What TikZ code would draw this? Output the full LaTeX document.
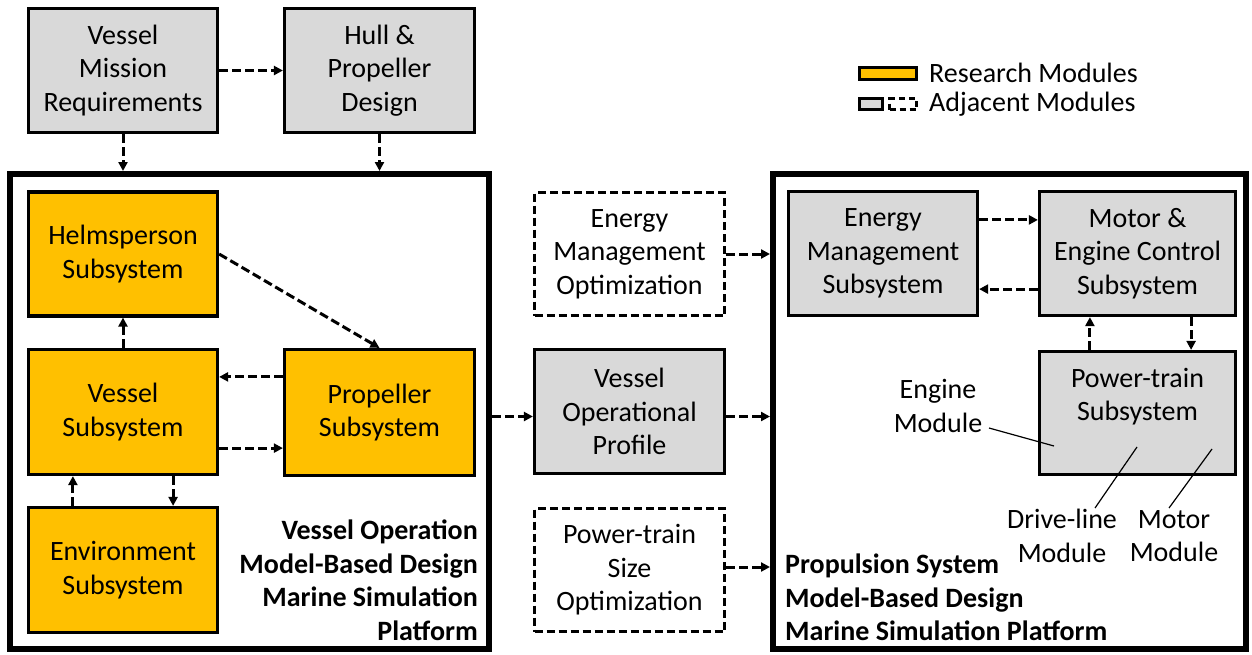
\documentclass[tikz,border=0pt]{standalone}
\usepackage{fontspec}
\setmainfont{Carlito}
\usetikzlibrary{arrows.meta}
\definecolor{resyellow}{HTML}{FFC000}
\definecolor{adjgray}{HTML}{D9D9D9}
\begin{document}
\begin{tikzpicture}[x=1pt,y=-1pt,
  txt/.style={font=\fontsize{28}{33.5}\selectfont, align=center, inner sep=0pt},
  box/.style={draw, line width=3.2pt, txt, minimum width=189pt, minimum height=124pt},
  resbox/.style={box, fill=resyellow},
  adjbox/.style={box, fill=adjgray},
  optbox/.style={box, fill=white, dash pattern=on 8pt off 4pt},
  platform/.style={draw, line width=6pt, inner sep=0pt, minimum height=475pt},
  flow/.style={line width=3pt, dash pattern=on 9pt off 4pt, -{Triangle[length=9pt,width=9pt]}},
  leader/.style={line width=1.2pt},
  platformtitle/.style={font=\bfseries\fontsize{28}{33.5}\selectfont, inner sep=0pt}
]
\useasboundingbox (0,0) rectangle (1252,654);

% platform frames
\node[platform, minimum width=479pt] (lframe) at (249.5,411.5) {};
\node[platform, minimum width=473pt] (rframe) at (1009.5,411.5) {};

% inputs above the vessel platform
\node[adjbox] (vmr)  at (123,70.5)   {Vessel\\Mission\\Requirements};
\node[adjbox, minimum width=190pt] (hull) at (379.5,70.5) {Hull \&\\Propeller\\Design};

% vessel operation platform
\node[resbox] (helm) at (123,254)   {Helmsperson\\Subsystem};
\node[resbox, minimum height=125pt] (ves)  at (123,412) {Vessel\\Subsystem};
\node[resbox, minimum width=190pt, minimum height=126pt] (prop) at (379.5,412.5) {Propeller\\Subsystem};
\node[resbox, minimum height=125pt] (env)  at (123,570) {Environment\\Subsystem};
\node[platformtitle, align=right, anchor=east] (ltitle) at (478,580)
  {Vessel Operation\\Model-Based Design\\Marine Simulation\\Platform};

% middle column
\node[optbox, minimum width=190pt, minimum height=123pt] (emo) at (629.5,254) {Energy\\Management\\Optimization};
\node[adjbox, minimum width=190pt, minimum height=124pt] (vop) at (629.5,411.5) {Vessel\\Operational\\Profile};
\node[optbox, minimum width=190pt, minimum height=123pt] (pso) at (629.5,570) {Power-train\\Size\\Optimization};

% propulsion system platform
\node[adjbox] (ems) at (883,253.5) {Energy\\Management\\Subsystem};
\node[adjbox, minimum width=196pt] (mec) at (1137.5,253.5) {Motor \&\\Engine Control\\Subsystem};
\node[adjbox, minimum width=196pt, minimum height=123pt] (pt) at (1137.5,413) {};
\node[txt] (ptlabel) at (1137.5,396.5) {Power-train\\Subsystem};
\node[platformtitle, align=left, anchor=west] (rtitle) at (785,597.5)
  {Propulsion System\\Model-Based Design\\Marine Simulation Platform};

% module call-outs
\node[txt] (engl)   at (938,406)  {Engine\\Module};
\node[txt] (drivel) at (1062,536) {Drive-line\\Module};
\node[txt] (motorl) at (1174,536) {Motor\\Module};
\coordinate (engA) at (989,428);   \coordinate (engB) at (1054,446);
\coordinate (drvA) at (1095,508);  \coordinate (drvB) at (1137,447);
\coordinate (motA) at (1169,508);  \coordinate (motB) at (1212,449);
\draw[leader] (engA) -- (engB);
\draw[leader] (drvA) -- (drvB);
\draw[leader] (motA) -- (motB);

% legend
\node[draw, line width=3pt, fill=resyellow, inner sep=0pt, minimum width=57pt, minimum height=12pt] (legres) at (888,73.5) {};
\node[draw, line width=3pt, fill=adjgray, inner sep=0pt, minimum width=23pt, minimum height=11pt] (legadj) at (871,104) {};
\node[draw, line width=3pt, dash pattern=on 6pt off 4pt, inner sep=0pt, minimum width=27pt, minimum height=11pt] (legopt) at (903,104) {};
\node[txt, anchor=west] (legrestxt) at (929,73) {Research Modules};
\node[txt, anchor=west] (legadjtxt) at (929,104) {Adjacent Modules};

% information flow
\draw[flow] (vmr.east) -- (hull.west);
\draw[flow] (vmr.south) -- (vmr.south |- lframe.north);
\draw[flow] (hull.south) -- (hull.south |- lframe.north);
\draw[flow] (helm.east) -- (prop.north);
\draw[flow] (ves.north) -- (helm.south);
\draw[flow] ([yshift=-29pt]prop.north west) -- ([yshift=-29pt]prop.north west -| ves.east);
\draw[flow] ([yshift=28pt]ves.south east) -- ([yshift=28pt]ves.south east -| prop.west);
\draw[flow] ([xshift=46pt]env.north west) -- ([xshift=46pt]ves.south west);
\draw[flow] ([xshift=-46pt]ves.south east) -- ([xshift=-46pt]env.north east);
\draw[flow] ([yshift=-5pt]vop.west -| lframe.east) -- ([yshift=-5pt]vop.west);
\draw[flow] ([yshift=-5pt]vop.east) -- ([yshift=-5pt]vop.east -| rframe.west);
\draw[flow] (emo.east) -- (emo.east -| rframe.west);
\draw[flow] ([yshift=3pt]pso.east) -- ([yshift=3pt]pso.east -| rframe.west);
\draw[flow] ([yshift=-30pt]ems.north east) -- ([yshift=-30pt]ems.north east -| mec.west);
\draw[flow] ([yshift=28pt]mec.south west) -- ([yshift=28pt]mec.south west -| ems.east);
\draw[flow] ([xshift=52pt]pt.north west) -- ([xshift=52pt]mec.south west);
\draw[flow] ([xshift=-46pt]mec.south east) -- ([xshift=-46pt]pt.north east);
\end{tikzpicture}
\end{document}
